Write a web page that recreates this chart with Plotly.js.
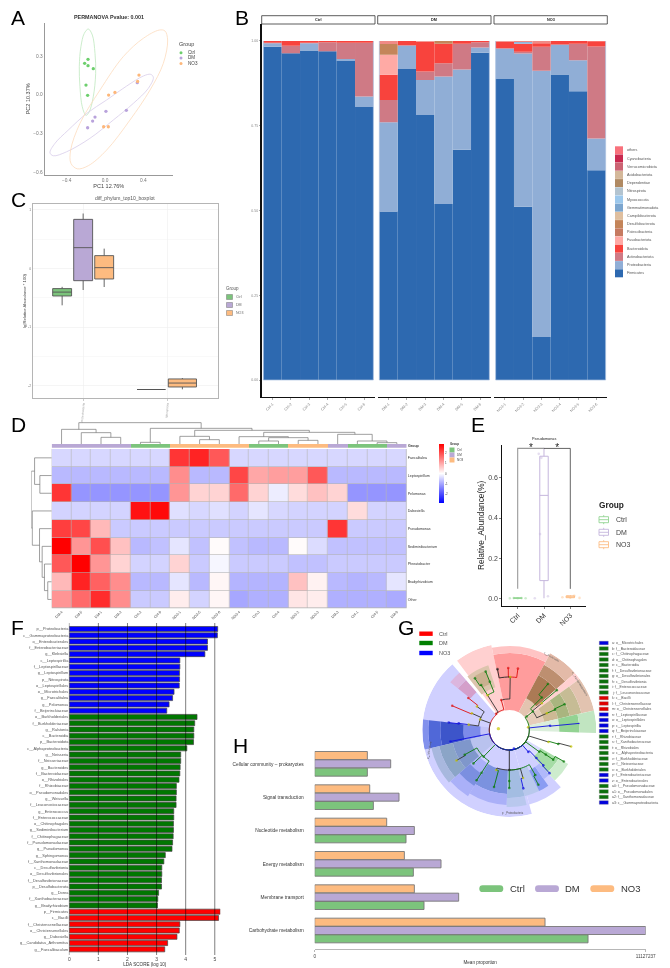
<!DOCTYPE html>
<html>
<head>
<meta charset="utf-8">
<script src="https://cdn.plot.ly/plotly-3.0.1.min.js"></script>
<style>html,body{margin:0;padding:0;background:#fff}#chart{width:670px;height:968px;filter:blur(.3px)}</style>
</head>
<body>
<div id="chart"></div>
<script>
// ---------- Panel A: PCoA ----------
const pcaCtrlX=[-.177,-.212,-.177,-.122,-.198,-.181], pcaCtrlY=[.274,.243,.225,.202,.075,-.005];
const pcaDmX=[.337,.223,.01,-.104,-.129,-.181], pcaDmY=[.093,-.121,-.129,-.173,-.204,-.256];
const pcaNo3X=[.355,.341,.104,.038,-.014,.035], pcaNo3Y=[.152,.103,.018,-.003,-.248,-.248];
const ellCtrlX=[-.174,-.132,-.104,-.097,-.122,-.164,-.198,-.237,-.261,-.268,-.251,-.216,-.174];
const ellCtrlY=[.509,.463,.320,.165,-.016,-.132,-.160,-.093,.062,.217,.372,.475,.509];
const ellDmX=[.477,.505,.452,.296,.087,-.157,-.400,-.539,-.574,-.522,-.383,-.191,.017,.226,.400,.477];
const ellDmY=[.158,.134,.049,-.067,-.196,-.338,-.442,-.473,-.450,-.377,-.274,-.145,-.041,.067,.145,.158];
const ellNo3X=[.567,.626,.654,.609,.470,.261,.017,-.174,-.289,-.355,-.358,-.261,-.052,.191,.400,.567];
const ellNo3Y=[.501,.494,.424,.243,.036,-.196,-.429,-.550,-.574,-.532,-.429,-.222,.036,.295,.437,.501];

// ---------- Panel B: stacked phyla (Ctrl-1..6, DM-1..6, NO3-1..6) ----------
const sampleNums=['-1','-2','-3','-4','-5','-6'];
const groupNames=['Ctrl','DM','NO3'];
const firmicutes=[.983,.964,.972,.970,.941,.805, .497,.917,.782,.519,.679,.965, .888,.511,.127,.901,.852,.619];
const proteobacteria=[.010,0,.021,0,.006,.031, .263,.069,.103,.376,.237,.016, .089,.452,.785,.087,.091,.093];
const actinobacteriota=[.002,.022,.002,.026,.048,.159, .066,.002,.025,.039,.076,.015, .002,.005,.071,.002,.049,.272];
const bacteroidota=[.005,.014,.005,.004,.005,.005, .074,.012,.088,.058,.008,.004, .019,.024,.010,.010,.008,.015];
const fusobacteriota=[0,0,0,0,0,0, .059,0,0,0,0,0, 0,0,0,0,0,0];
const desulfobacterota=[0,0,0,0,0,0, .032,0,0,.008,0,0, 0,0,0,0,0,0];
const gemmatimonadota=[0,0,0,0,0,0, 0,0,0,0,0,0, 0,.005,0,0,0,0];
const otherPhyla=[0,0,0,0,0,0, .009,0,.002,0,0,0, .002,.003,.007,0,0,0];
const stackOrder=[firmicutes,proteobacteria,actinobacteriota,bacteroidota,fusobacteriota,desulfobacterota,gemmatimonadota,otherPhyla];
const stackColors=['#2d69b0','#90aed6','#cf7a85','#f8433d','#ffaaa5','#c4855a','#8db4dc','#f08a85'];
const phylaLegend=['others','Cyanobacteria','Verrucomicrobiota','Acidobacteriota','Dependentiae','Nitrospirota','Myxococcota','Gemmatimonadota','Campilobacterota','Desulfobacterota','Patescibacteria','Fusobacteriota','Bacteroidota','Actinobacteriota','Proteobacteria','Firmicutes'];
const phylaLegendColors=['#f8717c','#c9294f','#cb6473','#d4b89a','#b08a63','#b3c4d0','#9cc8ec','#7ca6cf','#dfbf9f','#c4855a','#c67a60','#ffaaa5','#f8433d','#cf7a85','#90aed6','#2d69b0'];

// ---------- Panel C: boxplot ----------
const boxCats=['Proteobacteria','Nitrospirota'];
const boxCNames=['Ctrl','DM','NO3','DM','NO3'];
const boxCPos=[.75,1,1.25,1.81,2.18];
const boxCQ1=[-.466,-.205,-.176,-2.06,-2.017];
const boxCMed=[-.40,.358,.017,-2.06,-1.95];
const boxCQ3=[-.34,.84,.222,-2.06,-1.88];
const boxCLow=[-.625,-.364,-.313,-2.06,-2.057];
const boxCUp=[-.31,.94,.341,-2.06,-1.864];

// ---------- Panel D: heatmap ----------
const heatCols=['DM-4','DM-5','DM-1','DM-2','Ctrl-2','Ctrl-6','NO3-1','NO3-5','NO3-6','NO3-4','Ctrl-3','Ctrl-4','NO3-2','NO3-3','DM-3','Ctrl-1','Ctrl-5','DM-6'];
const heatColGroup=[1,1,1,1,0,0,2,2,2,2,0,0,2,2,1,0,0,1];
const heatRows=['Faecalitalea','Leptospirillum','Pelomonas','Dubosiella','Pseudomonas','Sediminibacterium','Phreatobacter','Bradyrhizobium','Other'];
const heatZ=[
[-.45,-.45,-.45,-.45,-.45,-.45,2.3,2.5,1.9,-.45,-.45,-.45,-.45,-.45,-.45,-.45,-.45,-.45],
[-.8,-.8,-.8,-.8,-.8,-.8,1.3,-.8,-.8,2.1,1.0,1.1,1.1,1.9,-.8,-.8,-.8,-.8],
[2.3,-1.2,-1.2,-1.2,-1.2,-1.2,1.2,.5,.5,1.7,.5,-.2,.4,.7,.5,-1.2,-1.2,-1.2],
[-.5,-.5,-.5,-.5,2.7,2.8,-.35,-.45,-.35,-.5,-.3,-.45,-.5,-.5,-.5,.4,-.5,-.5],
[2.2,2.1,.8,-.6,-.6,-.6,-.6,-.6,-.6,-.6,-.6,-.6,-.6,-.6,2.3,-.6,-.6,-.6],
[2.9,1.2,2.0,.7,-.8,-.7,-.3,-.7,.05,-.7,-.8,-.8,.05,-.4,-.7,-.7,-.7,-.7],
[1.9,2.9,1.2,.5,-.5,-.5,.5,-.6,-.1,-.6,-.6,-.6,-.7,-.7,-.6,-.6,-.6,-.6],
[.8,2.5,1.8,1.3,-.8,-.8,-.3,-.8,.1,-.85,-.85,-.85,.7,.15,-.8,-.85,-.8,-.3],
[1.2,1.7,2.4,1.3,-.6,-.6,.2,-.5,.1,-1.0,-.9,-.9,.3,.2,-.9,-.9,-.9,-.95]];
// hclust-style merges: negative = leaf (1-based), positive = earlier merge (1-based)
const colMergeA=[-3,-2,-1,-5,-8,-7,-11,-13,7,-10,-17,-16,-15,10,6,4,3];
const colMergeB=[-4,1,2,-6,-9,5,-12,-14,8,9,-18,11,12,13,14,15,16];
const colMergeH=[20,34,44,5,13,23,9,11,19,22,4,9,29,35,41,47,64];
const rowMergeA=[-2,-1,-8,-7,-6,-5,-4,2];
const rowMergeB=[-3,1,-9,3,4,5,6,7];
const rowMergeH=[36,52,12,22,29,37,59,62];

// ---------- Panel E: Pseudomonas ----------
const boxECats=['Ctrl','DM','NO3'];
const boxEQ1=[0,.088,.003], boxEMed=[.0005,.513,.006], boxEQ3=[.002,.708,.012], boxELow=[0,0,0], boxEUp=[.003,.75,.016];
const jitterCtrlX=[.7,.85,1,1.15,1.3], jitterCtrlY=[0,.001,0,.001,0];
const jitterDmX=[1.65,1.8,1.9,2.15,1.85], jitterDmY=[0,.72,.70,.01,.32];
const jitterNo3X=[2.7,2.9,3,3.15,3.35], jitterNo3Y=[.005,.01,.004,.012,.002];

// ---------- Panel F: LDA ----------
const ldaNo3Names=['p__Proteobacteria','c__Gammaproteobacteria','o__Enterobacterales','f__Enterobacteriaceae','g__Klebsiella','c__Leptospirillia','f__Leptospirillaceae','g__Leptospirillum','p__Nitrospirota','o__Leptospirillales','o__Microtrichales','g__Faecalitalea','g__Pelomonas','f__Beijerinckiaceae'];
const ldaNo3Vals=[5.10,5.09,4.75,4.75,4.66,3.80,3.80,3.79,3.79,3.78,3.60,3.55,3.43,3.35];
const ldaDmNames=['o__Burkholderiales','f__Burkholderiaceae','g__Ralstonia','c__Bacteroidia','p__Bacteroidota','c__Alphaproteobacteria','g__Neisseria','f__Neisseriaceae','g__Bacteroides','f__Bacteroidaceae','o__Rhizobiales','f__Rhizobiaceae','o__Pseudomonadales','g__Weissella','f__Leuconostocaceae','g__Enterococcus','f__Enterococcaceae','o__Chitinophagales','g__Sediminibacterium','f__Chitinophagaceae','f__Pseudomonadaceae','g__Pseudomonas','g__Sphingomonas','f__Xanthomonadaceae','c__Desulfovibrionia','o__Desulfovibrionales','f__Desulfovibrionaceae','p__Desulfobacterota','g__Dorea','f__Xanthobacteraceae','g__Bradyrhizobium'];
const ldaDmVals=[4.39,4.31,4.28,4.28,4.27,4.04,3.83,3.83,3.81,3.80,3.77,3.68,3.68,3.67,3.67,3.59,3.59,3.58,3.58,3.57,3.55,3.53,3.30,3.25,3.18,3.18,3.17,3.17,3.07,3.04,3.03];
const ldaCtrlNames=['p__Firmicutes','c__Bacilli','f__Christensenellaceae','o__Christensenellales','g__Dubosiella','g__Candidatus_Arthromitus','g__Faecalibaculum'];
const ldaCtrlVals=[5.19,5.13,3.80,3.78,3.70,3.38,3.28];
const ldaTicks=[0,1,2,3,4,5];

// ---------- Panel G: cladogram ----------
const sectorStart=[131,285,312,102,62,62,108,112,41,41,41,41,36,13,13,13,13,13,-2,-2,-2,131,131,173,173,173,173,173,193,193,193,193,221,221,238,238,268,268,283,296,305,312,312];
const sectorEnd=[285,312,330,127,102,102,128,123,62,62,62,62,41,36,36,36,36,36,13,13,13,141,141,193,193,193,193,193,221,221,221,221,238,238,268,268,283,283,296,305,312,330,330];
const sectorIn=[20,20,20,20,20,77,45,50,20,36,62,74,20,20,36,50,62,74,20,50,70,50,66,20,29,46,69,81,20,40,58,72,40,52,40,64,40,68,40,45,45,36,57];
const sectorOut=[87,77,36,87,77,84,68,64,36,62,74,87,87,36,50,62,74,87,50,70,87,66,76,29,46,69,81,87,40,58,72,80,78,66,64,75,68,77,68,68,60,57,68];
const sectorColor=['#d0d0ff','#d0d0ff','#dcdcff','#ffd0d0','#ff9c9c','#ffc4c4','#dcc4ad','#c9b08f','#e3c4b0','#ab7a55','#bd8f70','#e3baa8','#ffd0d0','#e6cdbb','#cdb994','#a9b57f','#c6bc95','#e2c3b0','#dbeedb','#93d393','#c1e5c1','#d49fca','#dcb6de','#c4c4f8','#7d8bea','#3d55ca','#5068d8','#8291ec','#b9c2ee','#7f97cb','#8ba5c7','#a8b8de','#aab0f8','#7b8fe0','#7b92df','#aab0f8','#a3bde2','#b9c8ee','#b8c8ec','#8a9cf2','#b0b8fa','#a6dca6','#cdeccd'];
const cladeTheta=[270,129,105,89,91,101,82,122,112,112,122,123.6,160,144,142,156,157,172.5,172.5,173,191,226,209,210,223,237,237,270,252,255,270,270,286,283.5,300,298,284,311,314,314,313,324,326,326,330,343,344,345,8,6,5.4,38,38,39.5,40,45,50,24,24,25];
const cladeRadius=[20,21,31,53,62,62,62,41,52,63,53,62,31,40,52,41,62,41,51,61,60,37,51,61,49,51,60,40,42,59,51,58,50,60,52,62,19,29,39,49,59,37,44,53,63,41,51,64,19,41,70,22,30,42,62,46,60,41,50,61];
const cladeClass=['k','r','r','y','r','k','r','y','g','g','g','g','y','y','r','y','r','y','b','b','b','g','g','y','g','g','g','k','y','g','g','g','y','b','g','g','b','b','b','b','b','g','g','g','g','y','g','y','y','b','b','g','g','y','g','g','g','y','g','g'];
const cladeParent=[-1,0,1,2,3,3,3,1,7,8,7,10,0,12,13,12,15,12,17,18,0,0,21,22,21,21,25,0,27,28,27,30,27,32,27,34,0,0,37,38,39,0,41,42,43,0,45,46,0,48,49,0,51,52,53,52,55,52,57,58];
const cladeLegendKeys=['a','b','c','d','e','f','g','h','i','j','k','l','m','n','o','p','q','r','s','t','u','v','w','x','y','z','a0','a1','a2','a3'];
const cladeLegendNames=['o__Microtrichales','f__Bacteroidaceae','f__Chitinophagaceae','o__Chitinophagales','c__Bacteroidia','f__Desulfovibrionaceae','o__Desulfovibrionales','c__Desulfovibrionia','f__Enterococcaceae','f__Leuconostocaceae','c__Bacilli','f__Christensenellaceae','o__Christensenellales','f__Leptospirillaceae','o__Leptospirillales','c__Leptospirillia','f__Beijerinckiaceae','f__Rhizobiaceae','f__Xanthobacteraceae','o__Rhizobiales','c__Alphaproteobacteria','f__Burkholderiaceae','f__Neisseriaceae','o__Burkholderiales','f__Enterobacteriaceae','o__Enterobacterales','f__Pseudomonadaceae','o__Pseudomonadales','f__Xanthomonadaceae','c__Gammaproteobacteria'];
const cladeLegendClass=['b','g','g','g','g','g','g','g','g','g','r','r','r','b','b','b','b','g','g','g','g','g','g','g','b','b','g','g','g','b'];

// ---------- Panel H: KEGG pathways ----------
const pathways=['Cellular community – prokaryotes','Signal transduction','Nucleotide metabolism','Energy metabolism','Membrane transport','Carbohydrate metabolism'];
const pathNo3=[1770000,1850000,2420000,3014000,3350000,7743000];
const pathDm=[2555000,2835000,3350000,4247000,4840000,11127237];
const pathCtrl=[1770000,1972000,3070000,3317000,3675000,9189000];
const pathMax=11127237;

// ---------- helpers ----------
const W=670,H=968,FONT='"Liberation Sans",Arial,sans-serif';
const GREEN='#7cc47c',PURPLE='#b9a8d5',ORANGE='#fdbb80',TXT='#444';
const traces=[],shapes=[],annotations=[];
const layout={width:W,height:H,margin:{l:0,r:0,t:0,b:0,pad:0,autoexpand:false},paper_bgcolor:'#fff',plot_bgcolor:'rgba(0,0,0,0)',
  showlegend:false,barmode:'overlay',font:{family:FONT,color:TXT,size:5},shapes,annotations};
let axN=0;
const baseAx={showgrid:false,zeroline:false,showline:false,ticks:'',fixedrange:true};
function axes(px0,px1,py0,py1,xo,yo){
  axN++;const id=axN===1?'':axN;
  layout['xaxis'+id]=Object.assign({},baseAx,{domain:[px0/W,px1/W],anchor:'y'+id},xo);
  layout['yaxis'+id]=Object.assign({},baseAx,{domain:[1-py1/H,1-py0/H],anchor:'x'+id},yo);
  return {xaxis:'x'+id,yaxis:'y'+id};
}
function label(px,py,text,size,o){o=o||{};
  annotations.push({xref:'paper',yref:'paper',x:px/W,y:1-py/H,text:text,showarrow:false,xanchor:o.anchor||'left',yanchor:'middle',
    borderpad:0,textangle:o.angle||0,font:{family:FONT,size:size,color:o.color||TXT}});}
function rect(x0,y0,x1,y1,fill,line,lw,layer){
  shapes.push({type:'rect',xref:'paper',yref:'paper',x0:x0/W,x1:x1/W,y0:1-y0/H,y1:1-y1/H,fillcolor:fill,layer:layer||'above',line:{color:line||'rgba(0,0,0,0)',width:lw||0}});}
function seg(x0,y0,x1,y1,color,lw){
  shapes.push({type:'line',xref:'paper',yref:'paper',x0:x0/W,x1:x1/W,y0:1-y0/H,y1:1-y1/H,layer:'above',line:{color:color,width:lw}});}
function pill(x0,x1,yc,h,color){
  const r=h/2,X=p=>(p/W).toFixed(5),Y=p=>(1-p/H).toFixed(5),t=yc-r,b=yc+r;
  shapes.push({type:'path',xref:'paper',yref:'paper',fillcolor:color,layer:'above',line:{width:0},
   path:`M${X(x0+r)} ${Y(t)}L${X(x1-r)} ${Y(t)}Q${X(x1)} ${Y(t)} ${X(x1)} ${Y(yc)}Q${X(x1)} ${Y(b)} ${X(x1-r)} ${Y(b)}L${X(x0+r)} ${Y(b)}Q${X(x0)} ${Y(b)} ${X(x0)} ${Y(yc)}Q${X(x0)} ${Y(t)} ${X(x0+r)} ${Y(t)}Z`});}
[['A',10,18],['B',234,18],['C',10,200],['D',10,424],['E',470,424],['F',10,627],['G',397,627],['H',232,745]].forEach(l=>label(l[1],l[2],l[0],21,{color:'#000'}));

// ---------- A ----------
(function(){
 const ax=axes(44.6,173,22.7,175,
  {range:[-.63,.71],showline:true,linecolor:'#999',linewidth:1,tickvals:[-.4,0,.4],ticktext:['−0.4','0.0','0.4'],tickfont:{size:4.8,color:'#777'},title:{text:'PC1 12.76%',font:{size:5.5,color:'#444'},standoff:2}},
  {range:[-.622,.558],showline:true,linecolor:'#999',linewidth:1,tickvals:[-.6,-.3,0,.3],ticktext:['−0.6','−0.3','0.0','0.3'],tickfont:{size:4.8,color:'#777'},title:{text:'PC2 10.37%',font:{size:5.5,color:'#444'},standoff:2}});
 [[ellCtrlX,ellCtrlY,'#bfe8bf'],[ellDmX,ellDmY,'#d8cdea'],[ellNo3X,ellNo3Y,'#fddcbe']].forEach(e=>
  traces.push(Object.assign({type:'scatter',mode:'lines',x:e[0],y:e[1],line:{color:e[2],width:.8,shape:'spline',smoothing:1},hoverinfo:'skip'},ax)));
 [[pcaCtrlX,pcaCtrlY,'#6dcf6d','Ctrl'],[pcaDmX,pcaDmY,'#b9a3dc','DM'],[pcaNo3X,pcaNo3Y,'#fdb77a','NO3']].forEach(s=>
  traces.push(Object.assign({type:'scatter',mode:'markers',name:s[3],x:s[0],y:s[1],marker:{color:s[2],size:3.3}},ax)));
 label(108.7,17,'<b>PERMANOVA Pvalue: 0.001</b>',5.4,{anchor:'center',color:'#333'});
 label(178.3,44,'Group',5.5);
 [['Ctrl','#6dcf6d',52.7],['DM','#b9a3dc',58],['NO3','#fdb77a',63.5]].forEach(g=>{
  shapes.push({type:'circle',xref:'paper',yref:'paper',x0:179.5/W,x1:182.5/W,y0:1-(g[2]+1.5)/H,y1:1-(g[2]-1.5)/H,fillcolor:g[1],line:{width:0}});
  label(187,g[2],g[0],4.6);});
})();

// ---------- B ----------
(function(){
 const panels=[[261.7,375],[377.7,491],[494,607.3]];
 panels.forEach((p,gi)=>{
  const ax=axes(p[0],p[1],24,397,
   {range:[.41,6.59],showline:true,linecolor:'#111',linewidth:1.4,ticks:'outside',ticklen:2,tickwidth:.5,tickcolor:'#555',tickvals:[1,2,3,4,5,6],ticktext:sampleNums.map(s=>groupNames[gi]+s),tickangle:-45,tickfont:{size:3.8,color:'#888'}},
   gi===0?{range:[-.05,1.05],showline:true,linecolor:'#111',linewidth:1.4,tickvals:[0,.25,.5,.75,1],ticktext:['0.00','0.25','0.50','0.75','1.00'],ticks:'outside',ticklen:1.5,tickwidth:.5,tickcolor:'#555',tickfont:{size:3.5,color:'#888'}}:{range:[-.05,1.05],showticklabels:false});
  const cum=[0,0,0,0,0,0];
  stackOrder.forEach((vals,si)=>{
    const y=vals.slice(gi*6,gi*6+6),base=cum.slice();
    y.forEach((v,i)=>cum[i]+=v);
    traces.push(Object.assign({type:'bar',orientation:'v',x:[1,2,3,4,5,6],y:y,base:base,width:1,name:phylaLegend[15-si],
      marker:{color:stackColors[si],line:{width:0}},hoverinfo:'skip'},ax));
  });
  // pale edge around the block of bars
  seg(p[0]+1.65,41,p[0]+1.65,380,'#a9c0e0',.7);
  seg(p[1]-1.65,41,p[1]-1.65,380,'#a9c0e0',.7);
  seg(p[0]+1.65,380,p[1]-1.65,380,'#a9c0e0',.7);
  rect(p[0],15.7,p[1],24,'#fff','#333',.8);
  label((p[0]+p[1])/2,20,'<b>'+groupNames[gi]+'</b>',3.8,{anchor:'center',color:'#222'});
 });
 phylaLegend.forEach((n,i)=>{const y=150.3+i*8.2;
  rect(615,y-4,623,y+4,phylaLegendColors[i]);
  label(626,y,n,3.7,{color:'#555'});});
})();

// ---------- C ----------
(function(){
 const ax=axes(32.7,217.7,204,398.3,
  {range:[.4,2.6],showline:true,mirror:true,linecolor:'#b5b5b5',linewidth:1,showgrid:true,gridcolor:'#eee',gridwidth:.6,tickvals:[1,2],ticktext:boxCats,tickangle:-85,tickfont:{size:3,color:'#999'},ticks:'outside',ticklen:1.5,tickcolor:'#999',tickwidth:.5},
  {range:[-2.21,1.102],showline:true,mirror:true,linecolor:'#b5b5b5',linewidth:1,showgrid:true,gridcolor:'#eee',gridwidth:.6,tickvals:[-2,-1,0,1],ticktext:['-2','-1','0','1'],tickfont:{size:3.3,color:'#777'},minor:{tickvals:[-1.5,-.5,.5],showgrid:true,gridcolor:'#f4f4f4',gridwidth:.5},
   title:{text:'lg(Relative Abundance * 100)',font:{size:4.2,color:'#444'},standoff:1}});
 const fill={Ctrl:GREEN,DM:PURPLE,NO3:ORANGE};
 boxCPos.forEach((p,i)=>traces.push(Object.assign({type:'box',name:boxCNames[i],x:[p],q1:[boxCQ1[i]],median:[boxCMed[i]],q3:[boxCQ3[i]],lowerfence:[boxCLow[i]],upperfence:[boxCUp[i]],
   width:i<3?.225:.335,whiskerwidth:0,boxpoints:false,fillcolor:fill[boxCNames[i]],line:{color:'#555',width:.9},hoverinfo:'skip'},ax)));
 label(125,198,'diff_phylum_top10_boxplot',5,{anchor:'center',color:'#555'});
 label(225,288,'Group',4.5,{color:'#555'});
 [['Ctrl',297],['DM',305],['NO3',313]].forEach(g=>{
  rect(226.5,g[1]-2.5,232.5,g[1]+2.5,g[0]==='Ctrl'?GREEN:g[0]==='DM'?PURPLE:ORANGE,'#777',.5);
  label(235,g[1],g[0],3.6,{color:'#666'});});
})();

// ---------- D ----------
function treeSegs(a,b,h){
 const pos=[],xs=[],ys=[];
 const P=k=>k<0?-k-1:pos[k-1], Hh=k=>k<0?0:h[k-1];
 a.forEach((_,i)=>{const p=P(a[i]),q=P(b[i]);pos.push((p+q)/2);
  xs.push(p,p,q,q,null);ys.push(Hh(a[i]),h[i],h[i],Hh(b[i]),null);});
 return [xs,ys];
}
(function(){
 const x0=51.7,x1=406.7,y0=449,y1=608.3;
 rect(x0,y0,x1,y1,'#b5b5b5',null,0,'below');
 const ax=axes(x0,x1,y0,y1,
  {range:[-.5,17.5],tickvals:heatCols.map((_,i)=>i),ticktext:heatCols,tickangle:-45,tickfont:{size:3.6,color:'#444'}},
  {range:[8.5,-.5],side:'right',tickvals:heatRows.map((_,i)=>i),ticktext:heatRows,tickfont:{size:3.6,color:'#333'}});
 traces.push(Object.assign({type:'heatmap',z:heatZ,x:heatCols.map((_,i)=>i),y:heatRows.map((_,i)=>i),zmin:-2.9,zmax:2.9,xgap:.6,ygap:.6,
   colorscale:[[0,'#0000ff'],[.5,'#ffffff'],[1,'#ff0000']],hoverinfo:'skip',
   colorbar:{x:439/W,xanchor:'left',y:1-444/H,yanchor:'top',lenmode:'pixels',len:58.7,thicknessmode:'pixels',thickness:4.6,xpad:0,ypad:0,outlinewidth:0,tickvals:[-2,-1,0,1,2],ticktext:['-2','-1','0','1','2'],tickfont:{size:3,color:'#444'},ticklen:0}},ax));
 const bar=axes(x0,x1,444,447.7,{range:[-.5,17.5],showticklabels:false},{range:[-.5,.5],showticklabels:false});
 traces.push(Object.assign({type:'heatmap',z:[heatColGroup],x:heatCols.map((_,i)=>i),y:[0],zmin:0,zmax:2,showscale:false,
   colorscale:[[0,GREEN],[.5,PURPLE],[1,ORANGE]],hoverinfo:'skip'},bar));
 const top=axes(x0,x1,421,444,{range:[-.5,17.5],showticklabels:false},{range:[0,69],showticklabels:false});
 const c=treeSegs(colMergeA,colMergeB,colMergeH);
 traces.push(Object.assign({type:'scatter',mode:'lines',x:c[0],y:c[1],line:{color:'#777',width:.7},hoverinfo:'skip'},top));
 const left=axes(31.3,x0,y0,y1,{range:[62,0],showticklabels:false},{range:[8.5,-.5],showticklabels:false});
 const r=treeSegs(rowMergeA,rowMergeB,rowMergeH);
 traces.push(Object.assign({type:'scatter',mode:'lines',x:r[1],y:r[0],line:{color:'#777',width:.7},hoverinfo:'skip'},left));
 label(407.3,445.8,'<b>Group</b>',3.6,{color:'#333'});
 label(449,444,'<b>Group</b>',3,{color:'#333'});
 [['Ctrl',GREEN,450],['DM',PURPLE,455],['NO3',ORANGE,460]].forEach(g=>{
  rect(449.5,g[2]-2.5,454.5,g[2]+2.5,g[1]);label(455.5,g[2],g[0],3,{color:'#444'});});
})();

// ---------- E ----------
(function(){
 const ax=axes(502.3,585.7,445,605.7,
  {range:[.415,3.585],showline:true,linecolor:'#111',linewidth:1,tickvals:[1,2,3],ticktext:boxECats,tickangle:-45,ticks:'outside',ticklen:2,tickcolor:'#333',tickwidth:.6,tickfont:{size:7,color:'#333'}},
  {range:[-.037,.764],showline:true,linecolor:'#111',linewidth:1,tickvals:[0,.2,.4,.6],ticktext:['0.0','0.2','0.4','0.6'],ticks:'outside',ticklen:2,tickcolor:'#333',tickwidth:.6,tickfont:{size:7,color:'#444'},
   title:{text:'Relative_Abundance(%)',font:{size:8.3,color:'#222'},standoff:2}});
 const lineCol=['#93d593','#c5b6dd','#fdbe87'];
 [[jitterCtrlX,jitterCtrlY,0],[jitterDmX,jitterDmY,1],[jitterNo3X,jitterNo3Y,2]].forEach(j=>
  traces.push(Object.assign({type:'scatter',mode:'markers',x:j[0],y:j[1],marker:{color:lineCol[j[2]],size:2.6,opacity:.45},hoverinfo:'skip'},ax)));
 boxECats.forEach((n,i)=>traces.push(Object.assign({type:'box',name:n,x:[i+1],q1:[boxEQ1[i]],median:[boxEMed[i]],q3:[boxEQ3[i]],lowerfence:[boxELow[i]],upperfence:[boxEUp[i]],
   width:.32,whiskerwidth:0,boxpoints:false,fillcolor:'rgba(255,255,255,0)',line:{color:lineCol[i],width:1},hoverinfo:'skip'},ax)));
 traces.push(Object.assign({type:'scatter',mode:'lines',x:[1,1,2],y:[.047,.747,.747],line:{color:'#999',width:1.1},cliponaxis:false,hoverinfo:'skip'},ax));
 traces.push(Object.assign({type:'scatter',mode:'lines',x:[2,3,3],y:[.747,.747,.047],line:{color:'#222',width:.7},cliponaxis:false,hoverinfo:'skip'},ax));
 traces.push(Object.assign({type:'scatter',mode:'text',x:[1.5,2.5],y:[.748,.748],text:['*','*'],textposition:'middle center',textfont:{size:10,color:'#222'},cliponaxis:false,hoverinfo:'skip'},ax));
 label(544,438.7,'Pseudomonas',3.8,{anchor:'center',color:'#222'});
 label(597.7,505,'<b>Group</b>',8.3,{color:'#222'});
 [['Ctrl',lineCol[0],519.7],['DM',lineCol[1],532.3],['NO3',lineCol[2],544.7]].forEach(g=>{
  rect(599,g[2]-3,608.5,g[2]+3,'#fff',g[1],.9);
  seg(599,g[2],608.5,g[2],g[1],.9);seg(603.7,g[2]-4.5,603.7,g[2]-3,g[1],.9);seg(603.7,g[2]+3,603.7,g[2]+4.5,g[1],.9);
  label(614.7,g[2],g[0],7,{color:'#444'});});
})();

// ---------- F ----------
(function(){
 const names=ldaNo3Names.concat(ldaDmNames,ldaCtrlNames);
 const ax=axes(69.3,220.3,623,955,
  {range:[0,5.19],tickvals:ldaTicks,ticktext:ldaTicks.map(String),tickfont:{size:5,color:'#444'},title:{text:'LDA SCORE (log 10)',font:{size:4.6,color:'#333'},standoff:1}},
  {type:'category',categoryorder:'array',categoryarray:names,range:[51.9,-.955],tickmode:'linear',tick0:0,dtick:1,tickfont:{size:3.9,color:'#555'}});
 [[ldaNo3Names,ldaNo3Vals,'#0000ff','NO3'],[ldaDmNames,ldaDmVals,'#007700','DM'],[ldaCtrlNames,ldaCtrlVals,'#ff0000','Ctrl']].forEach(s=>
  traces.push(Object.assign({type:'bar',orientation:'h',name:s[3],y:s[0],x:s[1],width:.8,marker:{color:s[2],line:{color:'#444',width:.7}},hoverinfo:'skip'},ax)));
 ldaTicks.slice(1).forEach(t=>shapes.push({type:'line',xref:ax.xaxis,yref:'paper',x0:t,x1:t,y0:1-623/H,y1:1-955/H,layer:'above',line:{color:'rgba(0,0,0,.5)',width:1}}));
 seg(69.3,623,69.3,955,'rgba(0,0,0,.5)',.6);
})();

// ---------- G ----------
(function(){
 const cx=509.3,cy=730,R=87;
 layout.polar={domain:{x:[(cx-R)/W,(cx+R)/W],y:[1-(cy+R)/H,1-(cy-R)/H]},bgcolor:'rgba(0,0,0,0)',barmode:'overlay',bargap:0,
  radialaxis:{visible:false,range:[0,R]},angularaxis:{visible:false,direction:'counterclockwise',rotation:0}};
 traces.push({type:'barpolar',subplot:'polar',theta:sectorStart.map((s,i)=>(s+sectorEnd[i])/2),width:sectorStart.map((s,i)=>sectorEnd[i]-s),
   base:sectorIn,r:sectorOut.map((o,i)=>o-sectorIn[i]),marker:{color:sectorColor,line:{width:0}},hoverinfo:'skip'});
 const nodeCol={r:'#e01010',g:'#0a7a0a',b:'#1010e0',y:'#c8c800',k:'#222'};
 const edgeCol={r:'#e01010',g:'#0a7a0a',b:'#1010e0',y:'#333',k:'#222'};
 const byCol={};
 cladeParent.forEach((p,i)=>{ if(p<0)return;
  const c=edgeCol[cladeClass[i]];const e=byCol[c]||(byCol[c]={t:[],r:[]});
  let t0=cladeTheta[p],t1=cladeTheta[i],d=((t1-t0+540)%360)-180;const n=Math.max(1,Math.ceil(Math.abs(d)/3));
  for(let k=0;k<=n;k++){e.t.push(t0+d*k/n);e.r.push(cladeRadius[p]);}
  e.t.push(t1,null);e.r.push(cladeRadius[i],null);
 });
 Object.keys(byCol).forEach(c=>traces.push({type:'scatterpolar',subplot:'polar',mode:'lines',theta:byCol[c].t,r:byCol[c].r,line:{color:c,width:.9},connectgaps:false,hoverinfo:'skip'}));
 traces.push({type:'scatterpolar',subplot:'polar',mode:'markers',theta:cladeTheta.slice(1).concat([173]),r:cladeRadius.slice(1).concat([11]),
   marker:{color:cladeClass.slice(1).map(c=>nodeCol[c]).concat(['#c8c800']),size:cladeRadius.slice(1).map(r=>r>64?1.5:2.6).concat([3.4]),line:{width:0}},hoverinfo:'skip'});
 [['Ctrl','#ff0000',633.7],['DM','#008000',643],['NO3','#0000ff',653]].forEach(g=>{
  rect(419.3,g[2]-2.2,432.7,g[2]+2.2,g[1]);label(437.7,g[2],g[0],5.5,{color:'#555'});});
 const keyCol={r:'#e00000',g:'#0a700a',b:'#0000dd'};
 cladeLegendNames.forEach((n,i)=>{const y=643+i*5.5;
  rect(599.3,y-1.8,608.3,y+1.8,keyCol[cladeLegendClass[i]],'#777',.3);
  label(611,y,cladeLegendKeys[i]+': '+n,3.5,{color:'#555'});});
 label(552,657,'c__Bacteroidia',2.6,{anchor:'center',angle:30,color:'#555'});
 label(580,684,'c__Alphaproteobacteria',2.6,{anchor:'center',angle:58,color:'#555'});
 label(429,750,'p__Nitrospirota',2.6,{anchor:'center',angle:-80,color:'#555'});
 label(513,813,'p__Proteobacteria',2.6,{anchor:'center',color:'#555'});
})();

// ---------- H ----------
(function(){
 const ax=axes(314.7,645.7,747,949,
  {range:[0,pathMax],showline:true,linecolor:'#999',linewidth:.7,tickvals:[0,pathMax],ticktext:['0',String(pathMax)],ticks:'outside',ticklen:2.5,tickcolor:'#999',tickwidth:.7,tickfont:{size:4.6,color:'#444'},title:{text:'Mean proportion',font:{size:4.6,color:'#333'},standoff:2}},
  {type:'category',categoryorder:'array',categoryarray:pathways,range:[5.55,-.51],tickmode:'linear',tick0:0,dtick:1,ticks:'outside',ticklen:9,tickcolor:'rgba(0,0,0,0)',tickfont:{size:4.8,color:'#333'}});
 [[pathNo3,ORANGE,'NO3',-.375],[pathDm,PURPLE,'DM',-.125],[pathCtrl,GREEN,'Ctrl',.125]].forEach(s=>
  traces.push(Object.assign({type:'bar',orientation:'h',name:s[2],y:pathways,x:s[0],width:.24,offset:s[3],marker:{color:s[1],line:{color:'#777',width:.9}},hoverinfo:'skip'},ax)));
 [['Ctrl',GREEN,479.3,509],['DM',PURPLE,535,564.3],['NO3',ORANGE,590.3,619.7]].forEach(g=>{
  pill(g[2],g[2]+24,888.7,6.7,g[1]);label(g[3],888.7,g[0],9.5,{color:'#333'});});
})();

Plotly.newPlot('chart',traces,layout,{displayModeBar:false,staticPlot:true});
</script>
</body>
</html>
